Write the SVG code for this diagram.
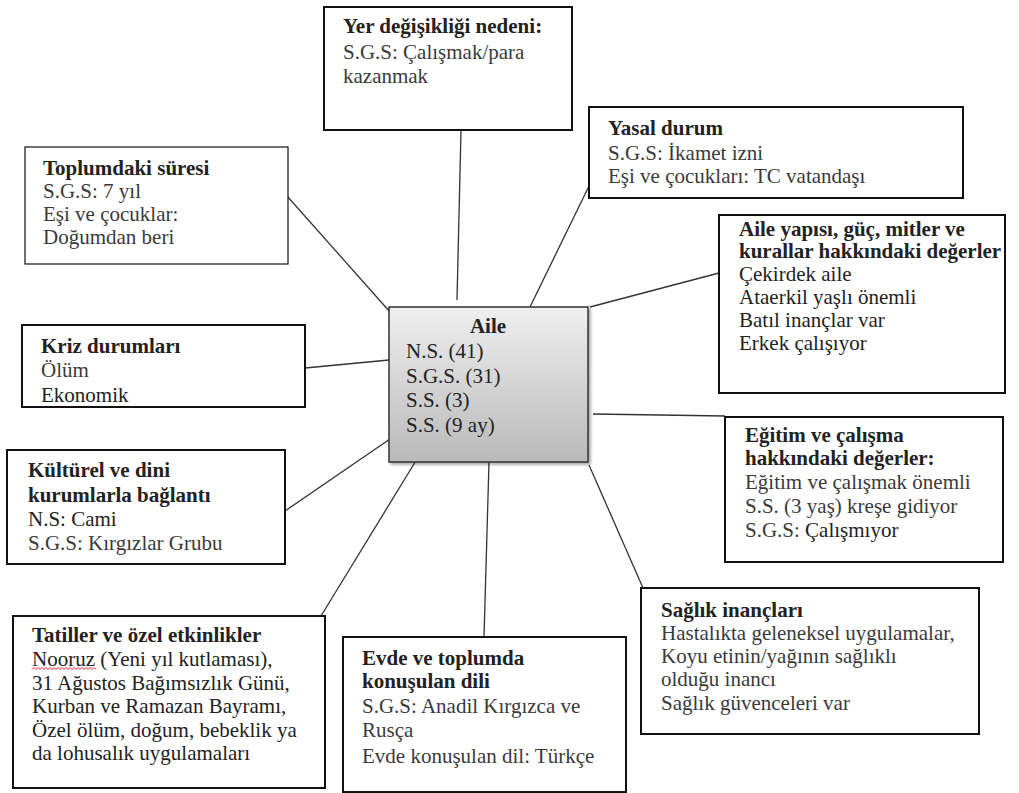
<svg xmlns="http://www.w3.org/2000/svg" width="1019" height="793" viewBox="0 0 1019 793">
<defs>
<linearGradient id="g" x1="0" y1="0" x2="0" y2="1">
<stop offset="0" stop-color="#efefef"/>
<stop offset="1" stop-color="#b9b9b9"/>
</linearGradient>
<filter id="sh" x="-10%" y="-10%" width="130%" height="130%">
<feDropShadow dx="2" dy="2" stdDeviation="1.5" flood-color="#000" flood-opacity="0.35"/>
</filter>
</defs>
<style>
.box{fill:#fff;stroke:#111;stroke-width:2}
.thin{stroke-width:1.2}
.t{font-family:"Liberation Serif","Times New Roman",serif;font-size:21px;fill:#3a3a3a}
.b{font-weight:bold;fill:#222}
.k{fill:#222}
.c line{stroke:#333;stroke-width:1.3}
</style>
<rect width="1019" height="793" fill="#fff"/>
<g class="c" id="connectors">
<line x1="461" y1="130" x2="457" y2="300"/>
<line x1="590" y1="184" x2="530" y2="307"/>
<line x1="287" y1="196" x2="390" y2="312"/>
<line x1="590" y1="307" x2="719" y2="273"/>
<line x1="305" y1="368" x2="389" y2="360"/>
<line x1="593" y1="414" x2="725" y2="416"/>
<line x1="285" y1="511" x2="390" y2="439"/>
<line x1="321" y1="616" x2="417" y2="459"/>
<line x1="489" y1="462" x2="484" y2="637"/>
<line x1="589" y1="465" x2="643" y2="588"/>
</g>
<g id="center">
<rect x="389" y="307" width="199" height="155" fill="url(#g)" stroke="#333" stroke-width="1.5" filter="url(#sh)"/>
<text class="t b" x="488" y="333" text-anchor="middle">Aile</text>
<text class="t k" x="406" y="358">N.S. (41)</text>
<text class="t k" x="406" y="383">S.G.S. (31)</text>
<text class="t k" x="406" y="407">S.S. (3)</text>
<text class="t k" x="406" y="432">S.S. (9 ay)</text>
</g>
<g id="yer">
<rect class="box" x="324" y="7" width="248" height="123"/>
<text class="t b" x="343" y="33">Yer değişikliği nedeni:</text>
<text class="t" x="343" y="59">S.G.S: Çalışmak/para</text>
<text class="t" x="343" y="83">kazanmak</text>
</g>
<g id="yasal">
<rect class="box" x="589" y="107" width="374" height="91"/>
<text class="t b" x="608" y="135">Yasal durum</text>
<text class="t" x="608" y="160">S.G.S: İkamet izni</text>
<text class="t" x="608" y="183">Eşi ve çocukları: TC vatandaşı</text>
</g>
<g id="toplum">
<rect class="box thin" x="25" y="147" width="263" height="117"/>
<text class="t b" x="43" y="175">Toplumdaki süresi</text>
<text class="t" x="43" y="198">S.G.S: 7 yıl</text>
<text class="t" x="43" y="221">Eşi ve çocuklar:</text>
<text class="t" x="43" y="244">Doğumdan beri</text>
</g>
<g id="aileyapisi">
<rect class="box" x="719" y="215" width="286" height="178"/>
<text class="t b" x="739" y="236">Aile yapısı, güç, mitler ve</text>
<text class="t b" x="739" y="258">kurallar hakkındaki değerler</text>
<text class="t k" x="739" y="281">Çekirdek aile</text>
<text class="t k" x="739" y="304">Ataerkil yaşlı önemli</text>
<text class="t k" x="739" y="327">Batıl inançlar var</text>
<text class="t k" x="739" y="350">Erkek çalışıyor</text>
</g>
<g id="kriz">
<rect class="box" x="22" y="325" width="283" height="82"/>
<text class="t b" x="41" y="353">Kriz durumları</text>
<text class="t" x="41" y="377">Ölüm</text>
<text class="t k" x="41" y="402">Ekonomik</text>
</g>
<g id="kulturel">
<rect class="box" x="7" y="450" width="278" height="114"/>
<text class="t b" x="28" y="477">Kültürel ve dini</text>
<text class="t b" x="28" y="502">kurumlarla bağlantı</text>
<text class="t k" x="28" y="526">N.S: Cami</text>
<text class="t" x="28" y="550">S.G.S:  Kırgızlar Grubu</text>
</g>
<g id="egitim">
<rect class="box" x="725" y="417" width="278" height="145"/>
<text class="t b" x="745" y="442">Eğitim ve çalışma</text>
<text class="t b" x="745" y="465">hakkındaki değerler:</text>
<text class="t" x="745" y="489">Eğitim ve çalışmak önemli</text>
<text class="t" x="745" y="513">S.S. (3 yaş) kreşe gidiyor</text>
<text class="t" x="745" y="537">S.G.S: <tspan class="k">Çalışmıyor</tspan></text>
</g>
<g id="tatiller">
<rect class="box" x="13" y="616" width="312" height="172"/>
<text class="t b" x="32" y="642">Tatiller ve özel etkinlikler</text>
<text class="t k" x="32" y="666">Nooruz (Yeni yıl kutlaması),</text>
<path d="M32 669.5 l2 -2 l2 2 l2 -2 l2 2 l2 -2 l2 2 l2 -2 l2 2 l2 -2 l2 2 l2 -2 l2 2 l2 -2 l2 2 l2 -2 l2 2 l2 -2 l2 2 l2 -2 l2 2 l2 -2 l2 2 l2 -2 l2 2 l2 -2 l2 2 l2 -2 l2 2 l2 -2 l2 2 l2 -2 l2 2" fill="none" stroke="#e02020" stroke-width="1"/>
<text class="t k" x="32" y="690">31 Ağustos Bağımsızlık Günü,</text>
<text class="t k" x="32" y="713">Kurban ve Ramazan Bayramı,</text>
<text class="t k" x="32" y="737">Özel ölüm, doğum, bebeklik ya</text>
<text class="t k" x="32" y="760">da lohusalık uygulamaları</text>
</g>
<g id="evde">
<rect class="box" x="343" y="637" width="283" height="155"/>
<text class="t b" x="362" y="665">Evde ve toplumda</text>
<text class="t b" x="362" y="688">konuşulan dili</text>
<text class="t" x="362" y="713">S.G.S: Anadil Kırgızca ve</text>
<text class="t" x="362" y="737">Rusça</text>
<text class="t" x="362" y="763">Evde konuşulan dil: Türkçe</text>
</g>
<g id="saglik">
<rect class="box" x="641" y="588" width="338" height="146"/>
<text class="t b" x="661" y="617">Sağlık inançları</text>
<text class="t" x="661" y="640">Hastalıkta geleneksel uygulamalar,</text>
<text class="t" x="661" y="663">Koyu etinin/yağının sağlıklı</text>
<text class="t" x="661" y="686">olduğu inancı</text>
<text class="t" x="661" y="710">Sağlık güvenceleri var</text>
</g>
</svg>
